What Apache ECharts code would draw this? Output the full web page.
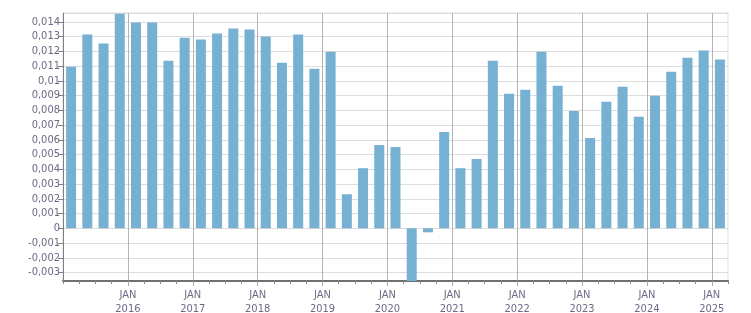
<!DOCTYPE html>
<html>
<head>
<meta charset="utf-8">
<script src="https://cdn.jsdelivr.net/npm/echarts@6/dist/echarts.min.js"></script>
<style>
html,body{margin:0;padding:0;background:#fff;}
#chart{width:751px;height:313px;}
</style>
</head>
<body>
<div id="chart"></div>
<script>
const quarters = [
  '2015 Q1','2015 Q2','2015 Q3','2015 Q4',
  '2016 Q1','2016 Q2','2016 Q3','2016 Q4',
  '2017 Q1','2017 Q2','2017 Q3','2017 Q4',
  '2018 Q1','2018 Q2','2018 Q3','2018 Q4',
  '2019 Q1','2019 Q2','2019 Q3','2019 Q4',
  '2020 Q1','2020 Q2','2020 Q3','2020 Q4',
  '2021 Q1','2021 Q2','2021 Q3','2021 Q4',
  '2022 Q1','2022 Q2','2022 Q3','2022 Q4',
  '2023 Q1','2023 Q2','2023 Q3','2023 Q4',
  '2024 Q1','2024 Q2','2024 Q3','2024 Q4',
  '2025 Q1'
];
const values = [
  0.01096, 0.01314, 0.01253, 0.01455,
  0.01396, 0.01396, 0.01137, 0.01293,
  0.01280, 0.01321, 0.01355, 0.01348,
  0.01300, 0.01123, 0.01314, 0.01082,
  0.01198, 0.00231, 0.00408, 0.00565,
  0.00551, -0.00450, -0.00027, 0.00654,
  0.00408, 0.00470, 0.01137, 0.00912,
  0.00939, 0.01198, 0.00967, 0.00796,
  0.00613, 0.00858, 0.00960, 0.00756,
  0.00899, 0.01062, 0.01157, 0.01205,
  0.01144
];
const yearLabels = ['2016','2017','2018','2019','2020','2021','2022','2023','2024','2025'];
const yMin = -0.00357;
const yMax = 0.0146;

const FONT = '"DejaVu Sans Condensed", "Liberation Sans", sans-serif';
const TXT = '#6b6b85';

const chart = echarts.init(document.getElementById('chart'), null, {renderer: 'canvas'});
chart.setOption({
  animation: false,
  backgroundColor: '#ffffff',
  grid: {
    left: 63, right: 23, top: 13, bottom: 32,
    outerBoundsMode: 'none',
    containLabel: false,
    show: true, borderColor: '#dddddd', borderWidth: 1, backgroundColor: 'transparent'
  },
  xAxis: [
    {
      type: 'category',
      data: quarters,
      boundaryGap: true,
      position: 'bottom',
      axisLine: {show: true, onZero: false, lineStyle: {color: '#707070', width: 2}},
      axisTick: {show: true, interval: 0, length: 3, lineStyle: {color: '#8a8a8a', width: 1}},
      axisLabel: {show: false},
      splitLine: {show: false}
    },
    {
      type: 'value',
      min: 0,
      max: quarters.length,
      interval: 4,
      position: 'bottom',
      axisLine: {show: false, onZero: false},
      axisTick: {show: true, length: 5, lineStyle: {color: '#ababab', width: 1}},
      splitLine: {show: true, showMinLine: false, showMaxLine: false, lineStyle: {color: '#b4b4b4', width: 1}},
      axisLabel: {
        show: true,
        margin: 7,
        color: TXT,
        fontFamily: FONT,
        fontSize: 11,
        lineHeight: 14,
        showMinLabel: false,
        showMaxLabel: false,
        formatter: function (v) {
          const i = v / 4 - 1;
          if (Number.isInteger(i) && i >= 0 && i < yearLabels.length) {
            return 'JAN\n' + yearLabels[i];
          }
          return '';
        }
      }
    }
  ],
  yAxis: {
    type: 'value',
    min: yMin,
    max: yMax,
    splitNumber: 18,
    minInterval: 0.001,
    maxInterval: 0.001,
    axisLine: {show: true, lineStyle: {color: '#808080', width: 1}},
    axisTick: {show: true, length: 5, lineStyle: {color: '#808080', width: 1}},
    splitLine: {show: true, lineStyle: {color: '#dddddd', width: 1}},
    axisLabel: {
      show: true,
      margin: 3,
      color: TXT,
      fontFamily: FONT,
      fontSize: 11,
      showMinLabel: false,
      showMaxLabel: false,
      formatter: function (v) {
        return String(+v.toFixed(6)).replace('.', ',');
      }
    }
  },
  series: [
    {
      type: 'bar',
      xAxisIndex: 0,
      yAxisIndex: 0,
      data: values,
      barWidth: 10,
      clip: true,
      itemStyle: {color: '#76b0d2'}
    }
  ]
});
</script>
</body>
</html>
